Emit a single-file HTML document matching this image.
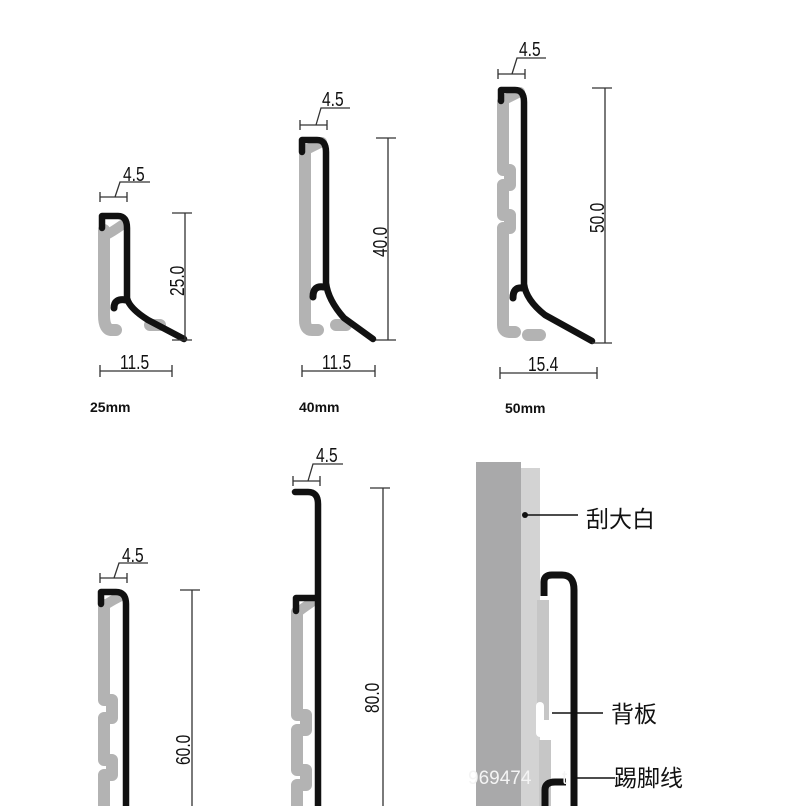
<!DOCTYPE html>
<html><head><meta charset="utf-8"><style>
html,body{margin:0;padding:0;background:#fff;}
svg{display:block;}
text{font-family:"Liberation Sans","Noto Sans CJK SC",sans-serif;}
</style></head><body>
<svg width="790" height="806" viewBox="0 0 790 806" xmlns="http://www.w3.org/2000/svg">
<g fill="none" stroke-linecap="round" stroke-linejoin="round">
<!-- Profile 1 (25mm) -->
<path d="M104,230 V315 Q104,330 112,330 M112,330 H116 M150,325 H160" stroke="#b3b3b3" stroke-width="12"/>
<path d="M106,235 Q112,232 122,225" stroke="#b3b3b3" stroke-width="10"/>
<path d="M102,228 V216 H118 Q127,216 127,228 V298 Q129,308 148,320 L184,339" stroke="#111" stroke-width="6.5"/>
<path d="M114,308 Q114,298 126,300" stroke="#111" stroke-width="7"/>
<!-- Profile 2 (40mm) -->
<path d="M305,150 V320 Q305,330 312,330 H318 M336,325 H346" stroke="#b3b3b3" stroke-width="12"/>
<path d="M306,150 Q314,146 322,142" stroke="#b3b3b3" stroke-width="10"/>
<path d="M302,152 V140 H317 Q326,140 326,152 V283 Q328,300 344,318 L373,339" stroke="#111" stroke-width="6.5"/>
<path d="M313,297 Q313,285 324,287" stroke="#111" stroke-width="7"/>
<!-- Profile 3 (50mm) -->
<path d="M503,102 V170 H510 V185 H503 V215 H510 V228 H503 V325 Q503,332 510,332 H515 M528,335 H540" stroke="#b3b3b3" stroke-width="12"/>
<path d="M504,100 Q512,96 520,92" stroke="#b3b3b3" stroke-width="10"/>
<path d="M501,101 V90 H515 Q524,90 524,102 V284 Q526,300 545,315 L592,341" stroke="#111" stroke-width="6.5"/>
<path d="M513,298 Q513,287 522,288" stroke="#111" stroke-width="7"/>
<!-- Profile 4 (60mm) -->
<path d="M104,605 V700 H112 V718 H104 V760 H112 V775 H104 V806" stroke="#b3b3b3" stroke-width="12"/>
<path d="M105,605 Q113,600 121,596" stroke="#b3b3b3" stroke-width="10"/>
<path d="M101,604 V592 H116 Q126,592 126,604 V806" stroke="#111" stroke-width="6.5"/>
<!-- Profile 5 (80mm) -->
<path d="M297,612 V715 H306 V730 H297 V770 H306 V785 H297 V806" stroke="#b3b3b3" stroke-width="12"/>
<path d="M298,612 Q306,606 312,602" stroke="#b3b3b3" stroke-width="10"/>
<path d="M295,492 H308 Q318,492 318,504 V806" stroke="#111" stroke-width="6.5"/>
<path d="M296,611 V598 H316" stroke="#111" stroke-width="6.5"/>
</g>
<!-- Panel 3 -->
<rect x="476" y="462" width="45" height="344" fill="#a9a9aa"/>
<rect x="521" y="468" width="19" height="338" fill="#d3d3d3"/>
<path d="M543,600 V720 M545,740 V806" stroke="#c6c6c6" stroke-width="12" fill="none"/>
<rect x="536" y="702" width="8" height="35" rx="4" fill="#fff"/>
<path d="M544,596 V582 Q544,575 552,575 H562 Q574,575 574,590 V806" stroke="#111" stroke-width="7" fill="none"/>
<path d="M545,806 V790 Q545,782 555,782 H566" stroke="#111" stroke-width="7" fill="none"/>
<circle cx="525" cy="515" r="3" fill="#111"/>
<line x1="525" y1="515" x2="578" y2="515" stroke="#111" stroke-width="1.5"/>
<line x1="552" y1="713" x2="603" y2="713" stroke="#111" stroke-width="1.5"/>
<line x1="575" y1="778" x2="615" y2="778" stroke="#111" stroke-width="1.5"/>
<text x="586" y="527" font-size="23" fill="#111">刮大白</text>
<text x="611" y="722" font-size="23" fill="#111">背板</text>
<text x="614" y="786" font-size="23" fill="#111">踢脚线</text>
<text x="468" y="784" font-size="19" fill="#f4f4f4">969474</text>
<text x="562" y="784" font-size="19" fill="#f4f4f4">t</text>
<!-- Dimension lines -->
<g stroke="#333" stroke-width="1.3" fill="none">
<path d="M100,192 V202 M127,192 V202 M100,197 H127 M115,197 L120,182 H150"/>
<path d="M300,120 V130 M327,120 V130 M300,125 H327 M316,125 L321,108 H350"/>
<path d="M498,69 V79 M525,69 V79 M498,74 H525 M512,74 L517,58 H546"/>
<path d="M100,573 V583 M127,573 V583 M100,578 H127 M114,578 L119,563 H148"/>
<path d="M293,476 V486 M320,476 V486 M293,481 H320 M308,481 L313,464 H343"/>
<path d="M172,213 H192 M185,213 V340 M172,340 H192"/>
<path d="M376,138 H396 M388,138 V340 M376,340 H396"/>
<path d="M592,88 H612 M605,88 V343 M592,343 H612"/>
<path d="M180,590 H200 M192,590 V806"/>
<path d="M370,488 H390 M383,488 V806"/>
<path d="M100,365 V377 M172,365 V377 M100,371 H172"/>
<path d="M302,365 V377 M375,365 V377 M302,371 H375"/>
<path d="M500,367 V379 M597,367 V379 M500,373 H597"/>
</g>
<g fill="#111" font-size="20">
<text transform="translate(123,181) scale(0.78,1)">4.5</text>
<text transform="translate(322,106) scale(0.78,1)">4.5</text>
<text transform="translate(519,56) scale(0.78,1)">4.5</text>
<text transform="translate(122,562) scale(0.78,1)">4.5</text>
<text transform="translate(316,462) scale(0.78,1)">4.5</text>
<text transform="translate(120,369) scale(0.78,1)">11.5</text>
<text transform="translate(322,369) scale(0.78,1)">11.5</text>
<text transform="translate(528,371) scale(0.78,1)">15.4</text>
<text transform="translate(184,296) rotate(-90) scale(0.78,1)">25.0</text>
<text transform="translate(387,257) rotate(-90) scale(0.78,1)">40.0</text>
<text transform="translate(604,233) rotate(-90) scale(0.78,1)">50.0</text>
<text transform="translate(190,765) rotate(-90) scale(0.78,1)">60.0</text>
<text transform="translate(379,713) rotate(-90) scale(0.78,1)">80.0</text>
</g>
<g fill="#111" font-size="14" font-weight="bold">
<text x="90" y="412">25mm</text>
<text x="299" y="412">40mm</text>
<text x="505" y="413">50mm</text>
</g>
</svg>
</body></html>
